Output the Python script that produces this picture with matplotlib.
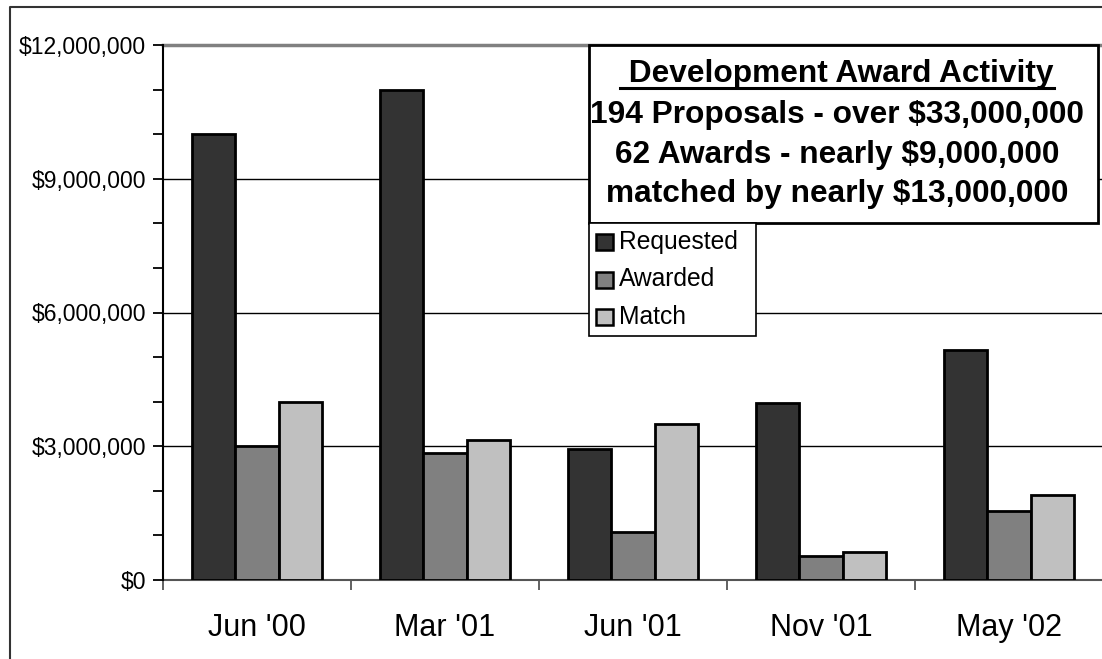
import matplotlib
matplotlib.use("Agg")
import matplotlib.pyplot as plt
from matplotlib.patches import Rectangle
from matplotlib.lines import Line2D
import numpy as np

categories = ["Jun '00", "Mar '01", "Jun '01", "Nov '01", "May '02"]
requested = [10000000, 11000000, 2930000, 3960000, 5170000]
awarded = [3000000, 2850000, 1080000, 540000, 1550000]
match = [3990000, 3130000, 3500000, 620000, 1900000]
series_names = ["Requested", "Awarded", "Match"]
colors = ["#333333", "#808080", "#C0C0C0"]
y_ticks = [0, 3000000, 6000000, 9000000, 12000000]
y_labels = ["$0", "$3,000,000", "$6,000,000", "$9,000,000", "$12,000,000"]
box_title = " Development Award Activity"
box_lines = ["194 Proposals - over $33,000,000",
             "62 Awards - nearly $9,000,000",
             "matched by nearly $13,000,000"]

plt.rcParams['font.family'] = ['Liberation Sans', 'DejaVu Sans']

W, H = 1102, 659
fig = plt.figure(figsize=(W / 100, H / 100), dpi=100)

def fx(px):
    return px / W

def fy(py):
    return 1 - py / H

ax = fig.add_axes([fx(163), fy(580), fx(1103) - fx(163), fy(45) - fy(580)])
x = np.arange(len(categories))
bw = 0.229
for i, (vals, c) in enumerate(zip([requested, awarded, match], colors)):
    ax.bar(x + (i - 1) * bw, vals, width=bw, color=c, edgecolor='black',
           linewidth=2, zorder=3)

ax.set_xlim(-0.5, len(categories) - 0.5)
ax.set_ylim(0, 12000000)

# gridlines
for v in y_ticks[1:-1]:
    ax.axhline(v, color='black', linewidth=1, zorder=1)
ax.axhline(12000000, color='#808080', linewidth=2.5, zorder=1, clip_on=False)

ax.set_yticks(y_ticks)
ax.set_yticklabels(y_labels, fontsize=16.5)
ax.set_yticks(np.arange(0, 12000001, 1000000), minor=True)
ax.tick_params(axis='y', which='both', direction='out', length=7, width=1.3,
               pad=5, color='black')

ax.set_xticks(np.arange(-0.5, len(categories), 1.0))
ax.set_xticklabels([])
ax.set_xticks(x, minor=True)
ax.set_xticklabels(categories, minor=True, fontsize=22)
ax.tick_params(axis='x', which='major', direction='out', length=7.5, width=1.3,
               color='#555555')
ax.tick_params(axis='x', which='minor', length=0, pad=24)

for s in ['top', 'right']:
    ax.spines[s].set_visible(False)
ax.spines['left'].set_linewidth(1.5)
ax.spines['bottom'].set_linewidth(1.5)
ax.spines['bottom'].set_color('#555555')
ax.spines['left'].set_zorder(4)

# outer border (partially visible)
fig.add_artist(Line2D([fx(10), fx(10), 1.0], [0.0, fy(7), fy(7)],
                      color='#333333', linewidth=1.5))

# text box
fig.add_artist(Rectangle((fx(589), fy(223)), fx(1098) - fx(589), fy(45) - fy(223),
                         facecolor='white', edgecolor='black', linewidth=2,
                         zorder=5))
cx = fx(837)
t = fig.text(cx, fy(74), box_title, ha='center', va='center', fontsize=22.8,
             fontweight='bold', zorder=6)
for k, line in enumerate(box_lines):
    fig.text(cx, fy(115 + k * 39.5), line, ha='center', va='center',
             fontsize=22.8, fontweight='bold', zorder=6)

fig.canvas.draw()
bb = t.get_window_extent()
fig.add_artist(Line2D([bb.x0 / W, bb.x1 / W], [fy(87.5), fy(87.5)],
                      color='black', linewidth=2.2, zorder=6))

# legend box
fig.add_artist(Rectangle((fx(589), fy(336)), fx(756) - fx(589), fy(223) - fy(336),
                         facecolor='white', edgecolor='black', linewidth=1.2,
                         zorder=5))
for k, (name, c) in enumerate(zip(series_names, colors)):
    yc = 242 + k * 37.5
    fig.add_artist(Rectangle((fx(596), fy(yc + 8)), fx(613) - fx(596), fy(yc - 8) - fy(yc + 8),
                             facecolor=c, edgecolor='black', linewidth=1.8, zorder=6))
    fig.text(fx(619), fy(yc), name, ha='left', va='center', fontsize=17.7, zorder=6)

fig.savefig("out.png", dpi=100)
